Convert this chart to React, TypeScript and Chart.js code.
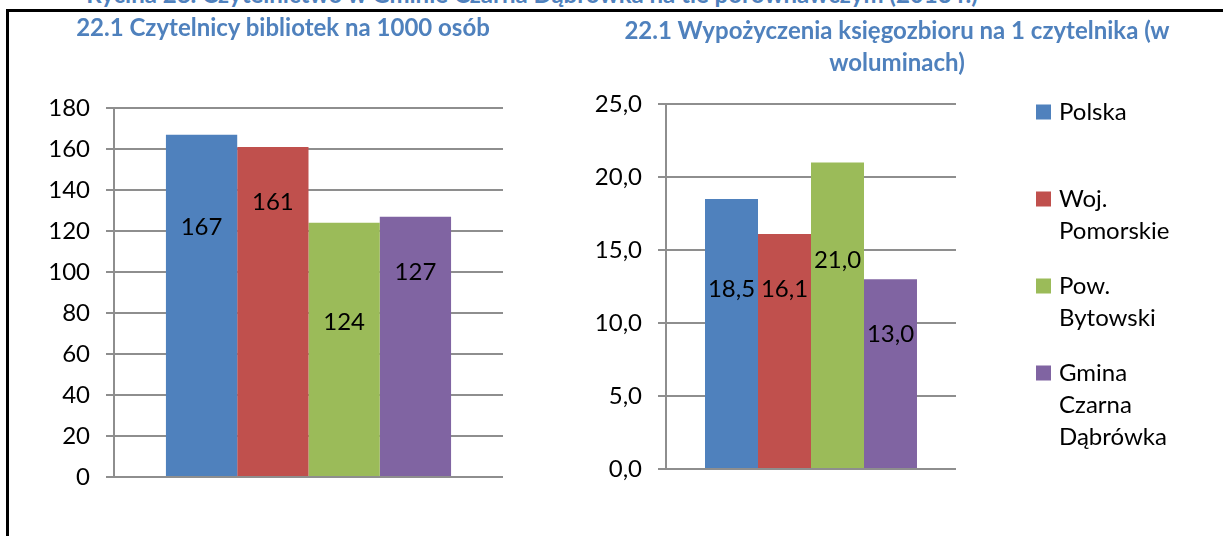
import React, { useEffect, useRef } from "react";
import { Chart, registerables } from "chart.js";

Chart.register(...registerables);

// ---------- data ----------
const SERIES = ["Polska", "Woj. Pomorskie", "Pow. Bytowski", "Gmina Czarna Dąbrówka"];
const COLORS = ["#4F81BD", "#C0504D", "#9BBB59", "#8064A2"];

const READERS = [167, 161, 124, 127];
// value (in axis units) at which each data label sits (labels were moved by hand in the original)
const READERS_LABEL_AT = [122, 134, 75.6, 100];
const READERS_AXIS = { min: 0, max: 180, step: 20 };

const LOANS = [18.5, 16.1, 21.0, 13.0];
const LOANS_LABEL_AT = [12.3, 12.3, 14.3, 9.2];
const LOANS_AXIS = { min: 0, max: 25, step: 5 };

const TOP_TITLE = "Rycina 28. Czytelnictwo w Gminie Czarna Dąbrówka na tle porównawczym (2013 r.)";
const TITLE_LEFT = "22.1 Czytelnicy bibliotek na 1000 osób";
const TITLE_RIGHT = ["22.1 Wypożyczenia księgozbioru na 1 czytelnika (w", "woluminach)"];

// ---------- styles ----------
const FONT_FAMILY = "Lato, Carlito, 'Open Sans', sans-serif";
const TEXT_SIZE = 24;
const GRID_COLOR = "#8e8e8e";
const TITLE_COLOR = "#4F81BD";

const fmt = (v: number, decimals: number) =>
  decimals > 0 ? v.toFixed(decimals).replace(".", ",") : String(Math.round(v));

function makeValueLabels(anchors: number[], decimals: number) {
  return {
    id: "valueLabels",
    afterDatasetsDraw(chart: any) {
      const { ctx } = chart;
      const y = chart.scales.y;
      chart.data.datasets.forEach((ds: any, i: number) => {
        const meta = chart.getDatasetMeta(i);
        const bar = meta.data[0];
        if (!bar) return;
        ctx.save();
        ctx.font = `${TEXT_SIZE}px ${FONT_FAMILY}`;
        ctx.fillStyle = "#000";
        ctx.textAlign = "center";
        ctx.textBaseline = "middle";
        ctx.fillText(fmt(ds.data[0], decimals), bar.x, y.getPixelForValue(anchors[i]));
        ctx.restore();
      });
    },
  };
}

function makeLegend(x: number, firstY: number, itemGap: number, lineGap: number) {
  return {
    id: "wrapLegend",
    afterDraw(chart: any) {
      const { ctx } = chart;
      ctx.save();
      ctx.font = `${TEXT_SIZE}px ${FONT_FAMILY}`;
      ctx.textBaseline = "middle";
      ctx.textAlign = "left";
      chart.data.datasets.forEach((ds: any, i: number) => {
        const cy = firstY + i * itemGap;
        ctx.fillStyle = ds.backgroundColor;
        ctx.fillRect(x, cy - 7.5, 15, 15);
        ctx.fillStyle = "#000";
        String(ds.label)
          .split(" ")
          .forEach((word: string, j: number) => {
            ctx.fillText(word, x + 23, cy + j * lineGap);
          });
      });
      ctx.restore();
    },
  };
}

function buildConfig(
  values: number[],
  axis: { min: number; max: number; step: number },
  decimals: number,
  axisWidth: number,
  padding: { top: number; bottom: number; left: number; right: number },
  catPct: number,
  plugins: any[]
): any {
  return {
    type: "bar",
    data: {
      labels: [""],
      datasets: SERIES.map((name, i) => ({
        label: name,
        data: [values[i]],
        backgroundColor: COLORS[i],
        borderWidth: 0,
      })),
    },
    options: {
      responsive: false,
      animation: false,
      devicePixelRatio: 1,
      layout: { padding },
      datasets: { bar: { categoryPercentage: catPct, barPercentage: 1 } },
      plugins: {
        legend: { display: false },
        title: { display: false },
        tooltip: { enabled: false },
      },
      scales: {
        x: { display: false },
        y: {
          min: axis.min,
          max: axis.max,
          afterFit: (s: any) => {
            s.width = axisWidth;
          },
          ticks: {
            stepSize: axis.step,
            color: "#000",
            padding: 16,
            font: { family: FONT_FAMILY, size: TEXT_SIZE },
            callback: (v: any) => fmt(Number(v), decimals),
          },
          grid: { color: GRID_COLOR, lineWidth: 2, tickLength: 8 },
          border: { color: GRID_COLOR, width: 2 },
        },
      },
    },
    plugins,
  };
}

function ChartCanvas({ config, left, width }: { config: () => any; left: number; width: number }) {
  const ref = useRef<HTMLCanvasElement | null>(null);
  useEffect(() => {
    if (!ref.current) return;
    const chart = new Chart(ref.current, config());
    return () => chart.destroy();
  }, []);
  return (
    <canvas
      ref={ref}
      width={width}
      height={536}
      style={{ position: "absolute", left, top: 0, width, height: 536 }}
    />
  );
}

const titleStyle: React.CSSProperties = {
  position: "absolute",
  transform: "translateX(-50%)",
  whiteSpace: "nowrap",
  fontFamily: FONT_FAMILY,
  fontWeight: 700,
  fontSize: 24,
  lineHeight: "32px",
  color: TITLE_COLOR,
  textAlign: "center",
};

export default function App() {
  return (
    <div
      style={{
        position: "absolute",
        left: 0,
        top: 0,
        width: 1223,
        height: 536,
        overflow: "hidden",
        background: "#fff",
      }}
    >
      <div style={{ ...titleStyle, left: 532, top: -22 }}>{TOP_TITLE}</div>
      <div
        style={{
          position: "absolute",
          left: 6,
          top: 9,
          width: 1400,
          height: 800,
          borderTop: "3px solid #000",
          borderLeft: "3px solid #000",
        }}
      />
      <ChartCanvas
        left={0}
        width={560}
        config={() =>
          buildConfig(
            READERS,
            READERS_AXIS,
            0,
            114,
            { top: 108, bottom: 59, left: 0, right: 57 },
            0.733,
            [makeValueLabels(READERS_LABEL_AT, 0)]
          )
        }
      />
      <ChartCanvas
        left={560}
        width={663}
        config={() =>
          buildConfig(
            LOANS,
            LOANS_AXIS,
            1,
            106,
            { top: 104, bottom: 67, left: 0, right: 267 },
            0.731,
            [makeValueLabels(LOANS_LABEL_AT, 1), makeLegend(476, 112, 87, 32)]
          )
        }
      />
      <div style={{ ...titleStyle, left: 283, top: 11 }}>{TITLE_LEFT}</div>
      <div style={{ ...titleStyle, left: 897, top: 14 }}>
        {TITLE_RIGHT[0]}
        <br />
        {TITLE_RIGHT[1]}
      </div>
    </div>
  );
}
